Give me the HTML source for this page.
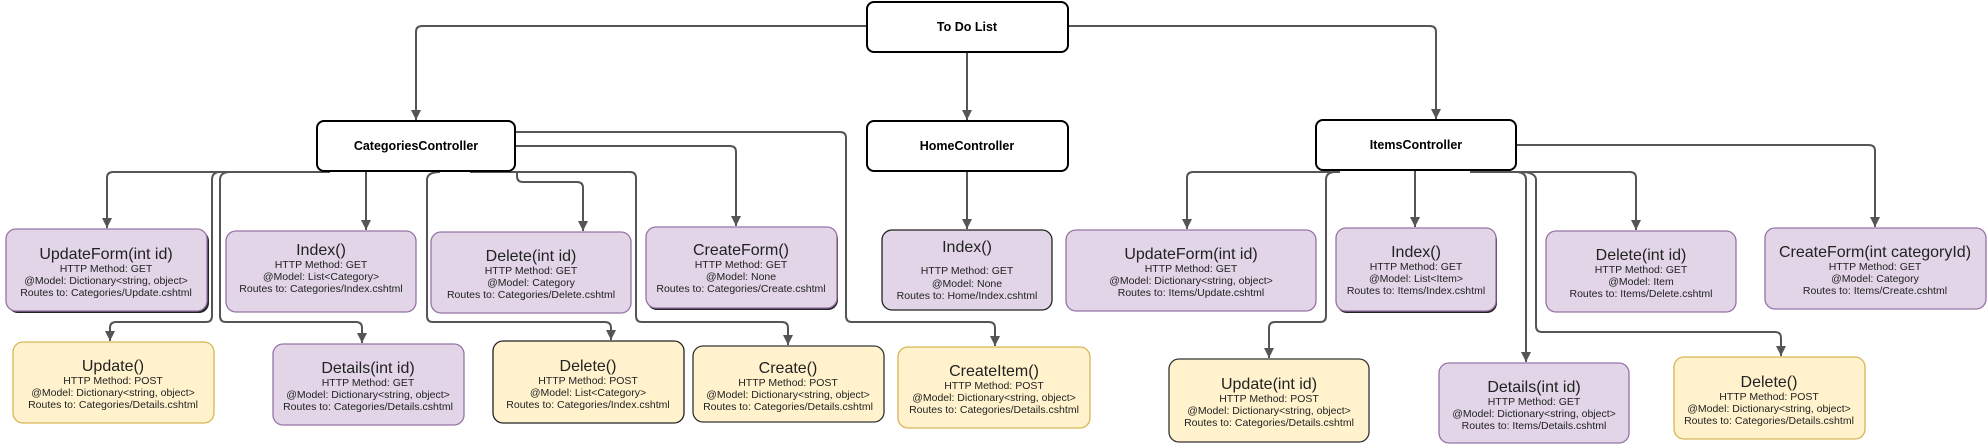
<!DOCTYPE html>
<html><head><meta charset="utf-8"><style>
html,body{margin:0;padding:0;background:#fff;}
svg{display:block;}
text{font-family:"Liberation Sans","DejaVu Sans",sans-serif;fill:#222;text-anchor:middle;}
.t{font-size:16px;}
.s{font-size:10.5px;}
.c{font-size:12.5px;font-weight:bold;fill:#000;}
.ln{fill:none;stroke:#555;stroke-width:2;stroke-linejoin:round;marker-end:url(#a);}
.P{fill:#e1d5e7;stroke:#9673a6;stroke-width:1.3;}
.Y{fill:#fff2cc;stroke:#d6b656;stroke-width:1.3;}
.K{fill:#fff;stroke:#000;stroke-width:2;}
.sh{fill:#222;}
</style></head><body>
<svg width="1988" height="444" viewBox="0 0 1988 444" xmlns="http://www.w3.org/2000/svg">
<defs><marker id="a" markerWidth="10" markerHeight="10" refX="5" refY="9" orient="auto" markerUnits="userSpaceOnUse" viewBox="0 0 10 10"><path d="M0,0 L10,0 L5,10 Z" fill="#555" transform="rotate(-90 5 5)"/></marker></defs>
<defs><marker id="b" markerWidth="10" markerHeight="12" refX="10" refY="5" orient="auto" markerUnits="userSpaceOnUse"><path d="M0,0 L10,5 L0,10 Z" fill="#555"/></marker></defs>
<style>.ln{marker-end:url(#b);}</style>

<!-- connectors -->
<path class="ln" d="M867,26 H422 Q416,26 416,32 V120"/>
<path class="ln" d="M967,52 V120"/>
<path class="ln" d="M1068,26 H1430 Q1436,26 1436,32 V119"/>
<path class="ln" d="M967,171 V229"/>
<!-- categories -->
<path class="ln" d="M330,172 H113 Q107,172 107,178 V228"/>
<path class="ln" d="M366,171 V230"/>
<path class="ln" d="M220,172 Q212,172 212,180 V316 Q212,322 206,322 H116 Q110,322 110,328 V341"/>
<path class="ln" d="M230,172 Q220,172 220,180 V316 Q220,322 226,322 H356 Q362,322 362,328 V343"/>
<path class="ln" d="M517,171 V176 Q517,182 523,182 H577 Q583,182 583,188 V231"/>
<path class="ln" d="M516,146 H730 Q736,146 736,152 V226"/>
<path class="ln" d="M440,172 Q427,172 427,180 V316 Q427,322 433,322 H605 Q611,322 611,328 V340"/>
<path class="ln" d="M470,172 H630 Q636,172 636,178 V316 Q636,322 642,322 H782 Q788,322 788,328 V345"/>
<path class="ln" d="M516,132 H840 Q846,132 846,138 V316 Q846,322 852,322 H989 Q995,322 995,328 V346"/>
<!-- items -->
<path class="ln" d="M1340,172 H1193 Q1187,172 1187,178 V229"/>
<path class="ln" d="M1415,170 V227"/>
<path class="ln" d="M1335,172 Q1326,172 1326,180 V316 Q1326,322 1320,322 H1275 Q1269,322 1269,328 V358"/>
<path class="ln" d="M1516,172 Q1526,172 1526,180 V362"/>
<path class="ln" d="M1470,172 H1630 Q1636,172 1636,178 V230"/>
<path class="ln" d="M1520,172 Q1536,172 1536,180 V326 Q1536,332 1542,332 H1775 Q1781,332 1781,338 V356"/>
<path class="ln" d="M1517,145 H1869 Q1875,145 1875,151 V227"/>

<!-- controllers -->
<rect class="K" x="867" y="2" width="201" height="50" rx="7"/>
<text class="c" x="967" y="31">To Do List</text>
<rect class="K" x="317" y="121" width="198" height="50" rx="7"/>
<text class="c" x="416" y="150">CategoriesController</text>
<rect class="K" x="867" y="121" width="201" height="50" rx="7"/>
<text class="c" x="967" y="150">HomeController</text>
<rect class="K" x="1316" y="120" width="200" height="50" rx="7"/>
<text class="c" x="1416" y="149">ItemsController</text>

<!-- method boxes -->
<g>
<rect class="sh" x="8" y="231" width="201" height="82" rx="10"/><rect class="P" x="6" y="229" width="201" height="82" rx="10"/>
<text class="t" x="106" y="259">UpdateForm(int id)</text><text class="s" x="106" y="272">HTTP Method: GET</text><text class="s" x="106" y="284">@Model: Dictionary&lt;string, object&gt;</text><text class="s" x="106" y="296">Routes to: Categories/Update.cshtml</text>

<rect class="P" x="226" y="231" width="190" height="81" rx="10"/>
<text class="t" x="321" y="255">Index()</text><text class="s" x="321" y="268">HTTP Method: GET</text><text class="s" x="321" y="280">@Model: List&lt;Category&gt;</text><text class="s" x="321" y="292">Routes to: Categories/Index.cshtml</text>

<rect class="P" x="431" y="232" width="200" height="81" rx="10"/>
<text class="t" x="531" y="261">Delete(int id)</text><text class="s" x="531" y="274">HTTP Method: GET</text><text class="s" x="531" y="286">@Model: Category</text><text class="s" x="531" y="298">Routes to: Categories/Delete.cshtml</text>

<rect class="sh" x="647" y="229" width="191" height="81" rx="10"/><rect class="P" x="646" y="227" width="191" height="81" rx="10"/>
<text class="t" x="741" y="255">CreateForm()</text><text class="s" x="741" y="268">HTTP Method: GET</text><text class="s" x="741" y="280">@Model: None</text><text class="s" x="741" y="292">Routes to: Categories/Create.cshtml</text>

<rect class="P" x="882" y="230" width="170" height="80" rx="10" style="stroke:#222"/>
<text class="t" x="967" y="252">Index()</text><text class="s" x="967" y="274">HTTP Method: GET</text><text class="s" x="967" y="287">@Model: None</text><text class="s" x="967" y="299">Routes to: Home/Index.cshtml</text>

<rect class="Y" x="13" y="342" width="201" height="81" rx="10"/>
<text class="t" x="113" y="371">Update()</text><text class="s" x="113" y="384">HTTP Method: POST</text><text class="s" x="113" y="396">@Model: Dictionary&lt;string, object&gt;</text><text class="s" x="113" y="408">Routes to: Categories/Details.cshtml</text>

<rect class="P" x="273" y="344" width="191" height="81" rx="10"/>
<text class="t" x="368" y="373">Details(int id)</text><text class="s" x="368" y="386">HTTP Method: GET</text><text class="s" x="368" y="398">@Model: Dictionary&lt;string, object&gt;</text><text class="s" x="368" y="410">Routes to: Categories/Details.cshtml</text>

<rect class="Y" x="493" y="341" width="191" height="82" rx="10" style="stroke:#222"/>
<text class="t" x="588" y="371">Delete()</text><text class="s" x="588" y="384">HTTP Method: POST</text><text class="s" x="588" y="396">@Model: List&lt;Category&gt;</text><text class="s" x="588" y="408">Routes to: Categories/Index.cshtml</text>

<rect class="Y" x="693" y="346" width="191" height="76" rx="10" style="stroke:#333"/>
<text class="t" x="788" y="373">Create()</text><text class="s" x="788" y="386">HTTP Method: POST</text><text class="s" x="788" y="398">@Model: Dictionary&lt;string, object&gt;</text><text class="s" x="788" y="410">Routes to: Categories/Details.cshtml</text>

<rect class="Y" x="898" y="347" width="192" height="81" rx="10"/>
<text class="t" x="994" y="376">CreateItem()</text><text class="s" x="994" y="389">HTTP Method: POST</text><text class="s" x="994" y="401">@Model: Dictionary&lt;string, object&gt;</text><text class="s" x="994" y="413">Routes to: Categories/Details.cshtml</text>

<rect class="P" x="1066" y="230" width="250" height="81" rx="10"/>
<text class="t" x="1191" y="259">UpdateForm(int id)</text><text class="s" x="1191" y="272">HTTP Method: GET</text><text class="s" x="1191" y="284">@Model: Dictionary&lt;string, object&gt;</text><text class="s" x="1191" y="296">Routes to: Items/Update.cshtml</text>

<rect class="sh" x="1337" y="230" width="160" height="83" rx="10"/><rect class="P" x="1336" y="228" width="160" height="83" rx="10"/>
<text class="t" x="1416" y="257">Index()</text><text class="s" x="1416" y="270">HTTP Method: GET</text><text class="s" x="1416" y="282">@Model: List&lt;Item&gt;</text><text class="s" x="1416" y="294">Routes to: Items/Index.cshtml</text>

<rect class="P" x="1546" y="231" width="190" height="81" rx="10"/>
<text class="t" x="1641" y="260">Delete(int id)</text><text class="s" x="1641" y="273">HTTP Method: GET</text><text class="s" x="1641" y="285">@Model: Item</text><text class="s" x="1641" y="297">Routes to: Items/Delete.cshtml</text>

<rect class="P" x="1765" y="228" width="221" height="81" rx="10"/>
<text class="t" x="1875" y="257">CreateForm(int categoryId)</text><text class="s" x="1875" y="270">HTTP Method: GET</text><text class="s" x="1875" y="282">@Model: Category</text><text class="s" x="1875" y="294">Routes to: Items/Create.cshtml</text>

<rect class="Y" x="1169" y="359" width="200" height="83" rx="10" style="stroke:#333"/>
<text class="t" x="1269" y="389">Update(int id)</text><text class="s" x="1269" y="402">HTTP Method: POST</text><text class="s" x="1269" y="414">@Model: Dictionary&lt;string, object&gt;</text><text class="s" x="1269" y="426">Routes to: Categories/Details.cshtml</text>

<rect class="P" x="1439" y="363" width="190" height="80" rx="10"/>
<text class="t" x="1534" y="392">Details(int id)</text><text class="s" x="1534" y="405">HTTP Method: GET</text><text class="s" x="1534" y="417">@Model: Dictionary&lt;string, object&gt;</text><text class="s" x="1534" y="429">Routes to: Items/Details.cshtml</text>

<rect class="Y" x="1674" y="357" width="191" height="82" rx="10"/>
<text class="t" x="1769" y="387">Delete()</text><text class="s" x="1769" y="400">HTTP Method: POST</text><text class="s" x="1769" y="412">@Model: Dictionary&lt;string, object&gt;</text><text class="s" x="1769" y="424">Routes to: Categories/Details.cshtml</text>
</g>
</svg>
</body></html>
